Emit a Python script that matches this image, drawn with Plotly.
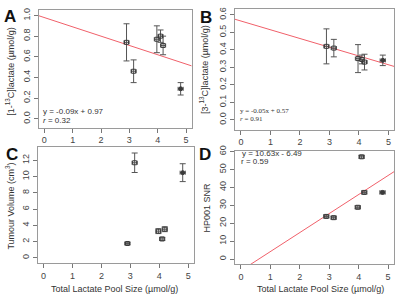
import plotly.graph_objects as go

# ---- data ----
pool_size = [2.9, 3.15, 3.97, 4.1, 4.19, 4.81]
pool_err = [0.09, 0.09, 0.09, 0.09, 0.09, 0.09]

lac1 = [0.74, 0.46, 0.77, 0.80, 0.71, 0.29]
lac1_err = [0.18, 0.11, 0.13, 0.06, 0.09, 0.06]

lac3 = [0.42, 0.41, 0.35, 0.345, 0.33, 0.34]
lac3_err = [0.10, 0.05, 0.08, 0.025, 0.045, 0.03]

volume = [1.76, 11.7, 3.28, 2.32, 3.52, 10.48]
volume_err = [0.1, 1.2, 0.3, 0.2, 0.3, 1.1]

snr = [23.8, 23.1, 28.9, 57.1, 37.2, 37.2]
snr_err = [0.8, 0.8, 0.8, 0.8, 0.8, 0.8]

fit_A = (-0.09, 0.98)
fit_B = (-0.05, 0.565)
fit_D = (10.63, -6.49)

eq_A = ["y = -0.09x + 0.97", "<i>r</i> = 0.32"]
eq_B = ["y = -0.05x + 0.57", "<i>r</i> = 0.91"]
eq_D = ["y = 10.63x - 6.49", "r = 0.59"]

x_ticks = [0, 1, 2, 3, 4, 5]
x_range = [-0.2, 5.2]

W, H = 400, 302
FONT = "Liberation Sans"
PT = "#3a3a3a"
RED = "#f0606a"

def px(x):
    return x / W

def py(y):
    return 1 - y / H

symbols = ["square-open"] * 5 + ["circle"]

fig = go.Figure()

panels = [
    ("", lac1, lac1_err, (38.7, 191.7), (4.7, 124.7), [-0.086, 1.057], [0, 0.2, 0.4, 0.6, 0.8, 1.0], fit_A, "%.1f"),
    ("2", lac3, lac3_err, (235, 394.3), (4.0, 126.7), [-0.056, 0.634], [0, 0.1, 0.2, 0.3, 0.4, 0.5, 0.6], fit_B, "%.1f"),
    ("3", volume, volume_err, (37.7, 194), (144.3, 262.5), [-0.66, 13.65], [0, 2, 4, 6, 8, 10, 12], None, "%d"),
    ("4", snr, snr_err, (235, 394), (148, 263.3), [-2.75, 60.6], [0, 10, 20, 30, 40, 50, 60], fit_D, "%d"),
]

layout_axes = {}
for suf, yv, ye, xd, yd, yr, yt, fit, fmt in panels:
    xa = "x" + suf
    ya = "y" + suf
    if fit is not None:
        fx = [x_range[0], x_range[1]]
        fy = [fit[0] * v + fit[1] for v in fx]
        fig.add_trace(go.Scatter(x=fx, y=fy, mode="lines", xaxis=xa, yaxis=ya,
                                 line=dict(color=RED, width=1), showlegend=False,
                                 hoverinfo="skip"))
    fig.add_trace(go.Scatter(
        x=pool_size, y=yv, mode="markers", xaxis=xa, yaxis=ya, showlegend=False,
        marker=dict(symbol=symbols, size=4, color=PT, line=dict(color=PT, width=1)),
        error_y=dict(type="data", array=ye, color="#555", thickness=1, width=3),
        error_x=dict(type="data", array=pool_err, color="#555", thickness=1, width=2),
    ))
    axis_common = dict(showline=True, mirror=True, linecolor="#9a9a9a", linewidth=1,
                       ticks="outside", ticklen=4, tickcolor="#777", showgrid=False,
                       zeroline=False, tickfont=dict(family=FONT, size=9, color="#444"))
    xkey = "xaxis" + suf
    ykey = "yaxis" + suf
    layout_axes[xkey] = dict(domain=[px(xd[0]), px(xd[1])], range=x_range,
                             tickvals=x_ticks, anchor=ya, **axis_common)
    layout_axes[ykey] = dict(domain=[py(yd[1]), py(yd[0])], range=yr, tickvals=yt,
                             ticktext=[fmt % v for v in yt], tickangle=-90,
                             anchor=xa, **axis_common)

ann = []
def text(x, y, s, size=9, xanchor="center", yanchor="middle", angle=0, family=FONT, bold=False, color="#333"):
    ann.append(dict(x=px(x), y=py(y), xref="paper", yref="paper", text=("<b>%s</b>" % s) if bold else s,
                    showarrow=False, xanchor=xanchor, yanchor=yanchor, textangle=angle,
                    borderpad=0, font=dict(family=family, size=size, color=color)))

# panel letters
text(10, 12, "A", size=17, bold=True, color="#111")
text(206, 13, "B", size=17, bold=True, color="#111")
text(12, 152, "C", size=17, bold=True, color="#111")
text(205, 152, "D", size=17, bold=True, color="#111")

# axis titles
text(10, 68, "[1-<sup>13</sup>C]lactate (µmol/g)", size=9, angle=-90)
text(204, 66, "[3-<sup>13</sup>C]lactate (µmol/g)", size=9, angle=-90)
text(10, 205, "Tumour Volume (cm<sup>3</sup>)", size=9, angle=-90)
text(207, 206, "HP001 SNR", size=9, angle=-90)
text(115, 289, "Total Lactate Pool Size (µmol/g)", size=9)
text(320, 289, "Total Lactate Pool Size (µmol/g)", size=9)

# equations
text(42, 108.5, eq_A[0], size=8, xanchor="left")
text(42, 117, eq_A[1], size=8, xanchor="left")
text(239, 107.7, eq_B[0], size=7, xanchor="left", family="Liberation Serif")
text(239, 116.3, eq_B[1], size=7, xanchor="left", family="Liberation Serif")
text(240.5, 150.5, eq_D[0], size=8, xanchor="left")
text(240.5, 159, eq_D[1], size=8, xanchor="left")

fig.update_layout(width=W, height=H, margin=dict(l=0, r=0, t=0, b=0),
                  paper_bgcolor="white", plot_bgcolor="white",
                  annotations=ann, **layout_axes)

fig.write_html("out.html", config={"displayModeBar": False},
               post_script="document.body.style.margin='0';document.body.style.overflow='hidden';")
